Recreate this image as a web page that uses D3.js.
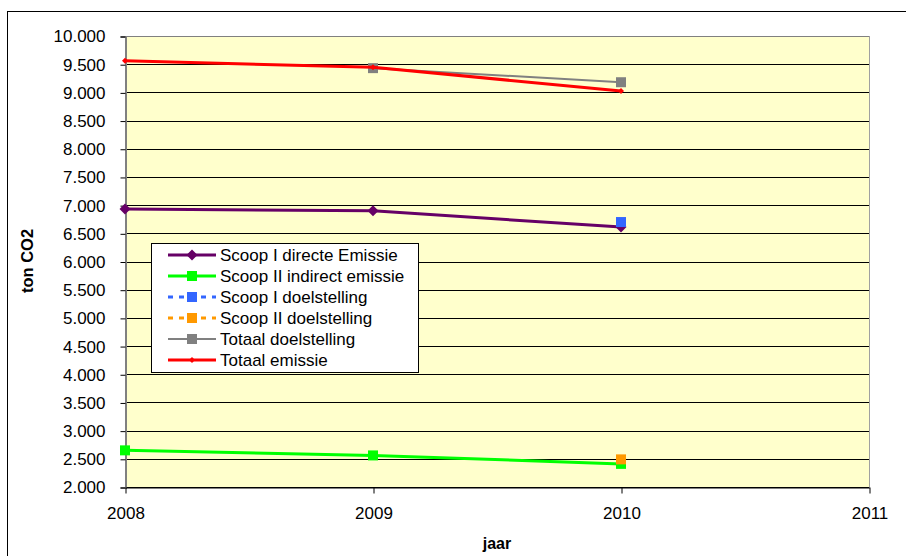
<!DOCTYPE html>
<html>
<head>
<meta charset="utf-8">
<script src="https://cdn.jsdelivr.net/npm/d3@7"></script>
<style>
  body { margin: 0; background: #fff; }
  svg { display: block; font-family: "Liberation Sans", Arial, sans-serif; }
</style>
</head>
<body>
<div id="chart"></div>
<script>
(function() {
  var years = [2008, 2009, 2010];
  var xTicks = [2008, 2009, 2010, 2011];
  var yTicks = d3.range(2000, 10001, 500);

  // ton CO2 per jaar, null = geen waarde
  var scoopI = [6930, 6900, 6610];
  var scoopII = [2650, 2560, 2410];
  var scoopIDoel = [null, null, 6700];
  var scoopIIDoel = [null, null, 2490];
  var totaalDoel = [null, 9430, 9180];
  var totaalEmissie = [9560, 9445, 9025];

  var series = [
    { name: 'Scoop I directe Emissie', values: scoopI, color: '#660066', width: 3, marker: 'diamond', size: 11 },
    { name: 'Scoop II indirect emissie', values: scoopII, color: '#00FF00', width: 3, marker: 'square', size: 10 },
    { name: 'Scoop I doelstelling', values: scoopIDoel, color: '#3366FF', width: 3, dash: '4,6', marker: 'square', size: 10 },
    { name: 'Scoop II doelstelling', values: scoopIIDoel, color: '#FF9900', width: 3, dash: '4,6', marker: 'square', size: 10 },
    { name: 'Totaal doelstelling', values: totaalDoel, color: '#808080', width: 2, marker: 'square', size: 10 },
    { name: 'Totaal emissie', values: totaalEmissie, color: '#FF0000', width: 3, marker: 'diamond', size: 6 }
  ];

  var width = 906, height = 556;
  var plot = { left: 125, top: 36, right: 869, bottom: 487 };

  var svg = d3.select('#chart').append('svg')
    .attr('width', width)
    .attr('height', height);

  // chart frame
  svg.append('rect')
    .attr('x', 7.5).attr('y', 11.5)
    .attr('width', width).attr('height', height)
    .attr('fill', '#fff').attr('stroke', '#000').attr('stroke-width', 1);

  var x = d3.scaleLinear().domain([2008, 2011]).range([plot.left, plot.right]);
  var y = d3.scaleLinear().domain([2000, 10000]).range([plot.bottom, plot.top]);

  svg.append('rect')
    .attr('x', plot.left).attr('y', plot.top)
    .attr('width', plot.right - plot.left).attr('height', plot.bottom - plot.top)
    .attr('fill', '#FFFFCC');

  // gridlines
  svg.append('g').selectAll('line').data(yTicks).enter().append('line')
    .attr('x1', plot.left).attr('x2', plot.right)
    .attr('y1', function(d) { return Math.round(y(d)) + 0.5; })
    .attr('y2', function(d) { return Math.round(y(d)) + 0.5; })
    .attr('stroke', function(d) { return d === 10000 ? '#808080' : '#000'; })
    .attr('stroke-width', 1);

  svg.append('line')
    .attr('x1', plot.right + 0.5).attr('x2', plot.right + 0.5)
    .attr('y1', plot.top).attr('y2', plot.bottom)
    .attr('stroke', '#A0A0A0');

  var fmtY = function(d) {
    var s = String(d);
    return s.slice(0, s.length - 3) + '.' + s.slice(s.length - 3);
  };

  var yAxis = d3.axisLeft(y).tickValues(yTicks).tickFormat(fmtY).tickSize(5).tickPadding(15);
  var gy = svg.append('g').attr('transform', 'translate(' + (plot.left + 0.5) + ',0.5)').call(yAxis);
  gy.select('.domain').attr('stroke', '#808080').attr('stroke-width', 2);
  gy.selectAll('.tick line').attr('stroke', '#000');
  gy.selectAll('.tick text').attr('font-size', 17).attr('fill', '#000')
    .attr('font-family', '"Liberation Sans", Arial, sans-serif');

  var xAxis = d3.axisBottom(x).tickValues(xTicks).tickFormat(d3.format('d')).tickSize(6).tickPadding(13).tickSizeOuter(0);
  var gx = svg.append('g').attr('transform', 'translate(0.5,' + (plot.bottom + 0.5) + ')').call(xAxis);
  gx.select('.domain').attr('stroke', '#000');
  gx.selectAll('.tick line').attr('stroke', '#000');
  gx.selectAll('.tick text').attr('font-size', 17).attr('fill', '#000')
    .attr('font-family', '"Liberation Sans", Arial, sans-serif');

  svg.append('text')
    .attr('x', (plot.left + plot.right) / 2).attr('y', 549)
    .attr('text-anchor', 'middle').attr('font-weight', 'bold').attr('font-size', 16)
    .text('jaar');

  svg.append('text')
    .attr('transform', 'translate(33,261) rotate(-90)')
    .attr('text-anchor', 'middle').attr('font-weight', 'bold').attr('font-size', 16.5)
    .text('ton CO2');

  var markerPath = function(type, size) {
    if (type === 'diamond') {
      var h = size / 2;
      return 'M0,' + (-h) + 'L' + h + ',0L0,' + h + 'L' + (-h) + ',0Z';
    }
    var s = size / 2;
    return 'M' + (-s) + ',' + (-s) + 'H' + s + 'V' + s + 'H' + (-s) + 'Z';
  };

  var line = d3.line()
    .defined(function(d) { return d.v != null; })
    .x(function(d) { return x(d.year); })
    .y(function(d) { return y(d.v); });

  series.forEach(function(s) {
    var pts = years.map(function(yr, i) { return { year: yr, v: s.values[i] }; });
    var g = svg.append('g');
    g.append('path').datum(pts)
      .attr('d', line)
      .attr('fill', 'none')
      .attr('stroke', s.color)
      .attr('stroke-width', s.width)
      .attr('stroke-dasharray', s.dash || null)
      .attr('stroke-linejoin', 'round');
    g.selectAll('path.m').data(pts.filter(function(d) { return d.v != null; })).enter()
      .append('path').attr('class', 'm')
      .attr('d', markerPath(s.marker, s.size))
      .attr('transform', function(d) { return 'translate(' + x(d.year) + ',' + y(d.v) + ')'; })
      .attr('fill', s.color);
  });

  // legend
  var lg = svg.append('g').attr('transform', 'translate(151,243)');
  lg.append('rect')
    .attr('x', 0.5).attr('y', 0.5).attr('width', 267).attr('height', 129)
    .attr('fill', '#fff').attr('stroke', '#000');
  var items = lg.selectAll('g.item').data(series).enter().append('g')
    .attr('class', 'item')
    .attr('transform', function(d, i) { return 'translate(0,' + (12 + i * 21) + ')'; });
  items.append('line')
    .attr('x1', 17).attr('x2', 65).attr('y1', 0).attr('y2', 0)
    .attr('stroke', function(d) { return d.color; })
    .attr('stroke-width', function(d) { return d.width; })
    .attr('stroke-dasharray', function(d) { return d.dash ? '5,6' : null; });
  items.append('path')
    .attr('d', function(d) { return markerPath(d.marker, d.size); })
    .attr('transform', 'translate(41,0)')
    .attr('fill', function(d) { return d.color; });
  items.append('text')
    .attr('x', 69).attr('y', 6)
    .attr('font-size', 17)
    .text(function(d) { return d.name; });
})();
</script>
</body>
</html>
